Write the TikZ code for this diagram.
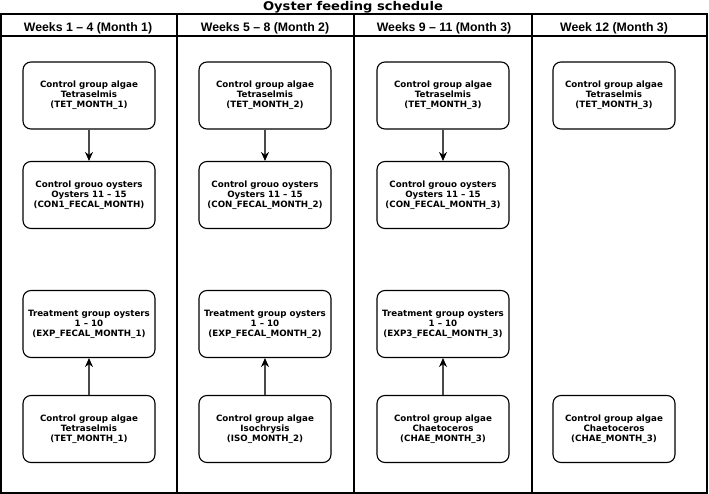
\documentclass[tikz,border=0pt]{standalone}
\usepackage{fontspec}
\usepackage{tikz}
\usetikzlibrary{arrows.meta}
\newfontfamily\boxfont{DejaVu Sans}
\newfontfamily\titlefont{DejaVu Sans}[FakeStretch=1.09]
\newfontfamily\headfont{Liberation Sans}
\definecolor{arrow_gray}{HTML}{4A4A4A}

\begin{document}
\begin{tikzpicture}[x=1pt, y=-1pt,
        feedbox/.style={draw, line width=1.1pt, rounded corners=8pt,
            minimum width=132pt, minimum height=67pt, inner sep=0pt, align=center,
            font=\boxfont\bfseries\fontsize{8.7}{10}\selectfont},
        feedarrow/.style={draw=arrow_gray, line width=1.2pt,
            -{Stealth[black, length=9pt, width=8pt]}},
        weekhead/.style={anchor=base, font=\headfont\bfseries\fontsize{12.3}{14}\selectfont}]
            \useasboundingbox (0, 0) rectangle (709, 494);

            \node[anchor=base, font=\titlefont\bfseries\fontsize{12}{14}\selectfont] (title) at (353, 10.8) {Oyster feeding schedule};

            \draw[line width=1.3pt] (1, 14) rectangle (707, 493);
            \draw[line width=1.1pt] (1, 36) -- (707, 36);
            \draw[line width=1.1pt] (177, 14) -- (177, 493);
            \draw[line width=1.1pt] (354, 14) -- (354, 493);
            \draw[line width=1.1pt] (532, 14) -- (532, 493);

            \node[weekhead] (w1) at (88, 32) {Weeks 1 – 4 (Month 1)};
            \node[weekhead] (w2) at (265, 32) {Weeks 5 – 8 (Month 2)};
            \node[weekhead] (w3) at (444, 32) {Weeks 9 – 11 (Month 3)};
            \node[weekhead] (w4) at (614, 32) {Week 12 (Month 3)};

            \node[feedbox] (alg1) at (89, 95.5) {Control group algae\\Tetraselmis\\(TET\_MONTH\_1)};
            \node[feedbox] (con1) at (89, 195) {Control grouo oysters\\Oysters 11 – 15\\(CON1\_FECAL\_MONTH)};
            \node[feedbox] (exp1) at (89, 324) {Treatment group oysters\\1 – 10\\(EXP\_FECAL\_MONTH\_1)};
            \node[feedbox] (feed1) at (89, 429) {Control group algae\\Tetraselmis\\(TET\_MONTH\_1)};

            \node[feedbox] (alg2) at (265, 95.5) {Control group algae\\Tetraselmis\\(TET\_MONTH\_2)};
            \node[feedbox] (con2) at (265, 195) {Control grouo oysters\\Oysters 11 – 15\\(CON\_FECAL\_MONTH\_2)};
            \node[feedbox] (exp2) at (265, 324) {Treatment group oysters\\1 – 10\\(EXP\_FECAL\_MONTH\_2)};
            \node[feedbox] (feed2) at (265, 429) {Control group algae\\Isochrysis\\(ISO\_MONTH\_2)};

            \node[feedbox] (alg3) at (443, 95.5) {Control group algae\\Tetraselmis\\(TET\_MONTH\_3)};
            \node[feedbox] (con3) at (443, 195) {Control grouo oysters\\Oysters 11 – 15\\(CON\_FECAL\_MONTH\_3)};
            \node[feedbox] (exp3) at (443, 324) {Treatment group oysters\\1 – 10\\(EXP3\_FECAL\_MONTH\_3)};
            \node[feedbox] (feed3) at (443, 429) {Control group algae\\Chaetoceros\\(CHAE\_MONTH\_3)};

            \node[feedbox, minimum width=122pt] (alg4) at (614, 95.5) {Control group algae\\Tetraselmis\\(TET\_MONTH\_3)};
            \node[feedbox, minimum width=122pt] (feed4) at (614, 429) {Control group algae\\Chaetoceros\\(CHAE\_MONTH\_3)};

            \draw[feedarrow] (alg1) -- (con1);
            \draw[feedarrow] (alg2) -- (con2);
            \draw[feedarrow] (alg3) -- (con3);
            \draw[feedarrow] (feed1) -- (exp1);
            \draw[feedarrow] (feed2) -- (exp2);
            \draw[feedarrow] (feed3) -- (exp3);

        \end{tikzpicture}
\end{document}
